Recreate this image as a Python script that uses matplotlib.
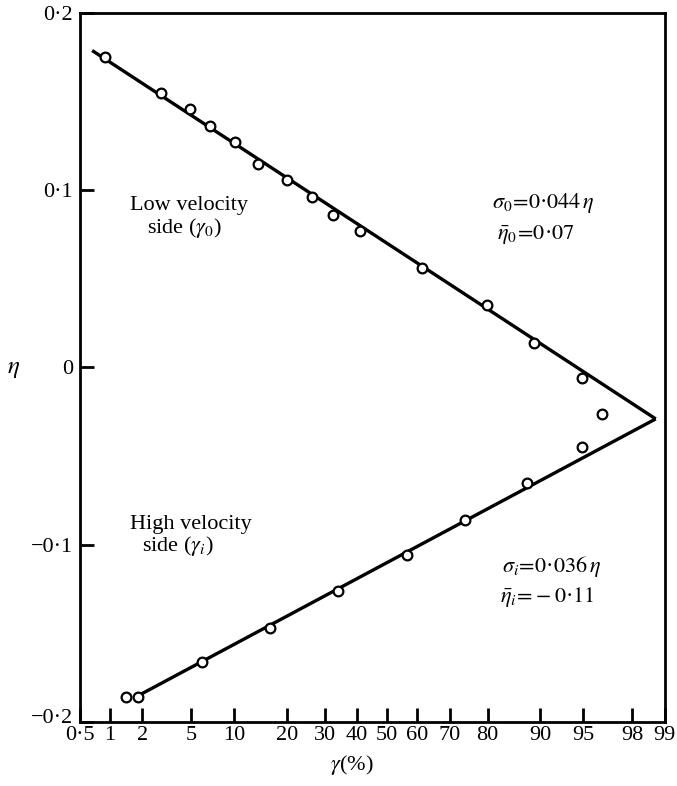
import math
from statistics import NormalDist

import numpy as np
import matplotlib
matplotlib.use("Agg")
import matplotlib.pyplot as plt
import matplotlib.transforms as mtransforms
from matplotlib.ticker import NullLocator


# measured points, low velocity side (gamma_0)
low_pct = [0.9, 2.9, 4.9, 6.9, 10.1, 14.0, 20.1, 26.5, 32.5, 41.0, 61.6, 79.9, 89.1, 94.9, 96.4]
low_eta = [0.175, 0.155, 0.146, 0.136, 0.127, 0.115, 0.106, 0.096, 0.086, 0.077,
           0.056, 0.035, 0.014, -0.006, -0.026]

# measured points, high velocity side (gamma_i)
high_pct = [1.43, 1.84, 6.0, 16.3, 34.0, 56.7, 74.4, 88.0, 94.9]
high_eta = [-0.186, -0.186, -0.166, -0.147, -0.126, -0.106, -0.086, -0.065, -0.045]

# gaussian fits: eta = mean -/+ sigma * z
sigma_0, mean_0 = 0.044, 0.07
sigma_i, mean_i = 0.036, -0.11
low_fit_start = 0.67
high_fit_start = 1.84

xtick_pct = [0.5, 1, 2, 5, 10, 20, 30, 40, 50, 60, 70, 80, 90, 95, 98, 99]
xtick_labels = ["0·5", "1", "2", "5", "10", "20", "30", "40", "50", "60", "70",
                "80", "90", "95", "98", "99"]
ytick_vals = [-0.2, -0.1, 0.0, 0.1, 0.2]
ytick_labels = ["\u22120·2", "\u22120·1", "0", "0·1", "0·2"]

nd = NormalDist()
_inv = np.vectorize(nd.inv_cdf, otypes=[float])
_erf = np.vectorize(math.erf, otypes=[float])


def pct_to_z(p):
    p = np.clip(np.asarray(p, dtype=float), 1e-9, 100 - 1e-9)
    return _inv(p / 100.0)


def z_to_pct(z):
    z = np.asarray(z, dtype=float)
    return 50.0 * (1.0 + _erf(z / math.sqrt(2.0)))


plt.rcParams["font.family"] = ["Liberation Serif", "DejaVu Serif"]
plt.rcParams["mathtext.fontset"] = "stix"
plt.rcParams["font.size"] = 16

fig = plt.figure(figsize=(6.77, 7.86), dpi=100)
ax = fig.add_axes([0.118, 0.0814, 0.864, 0.9021])
ax.set_xscale("function", functions=(pct_to_z, z_to_pct))

# fitted lines meet where the two gaussians cross
z_vertex = (mean_0 - mean_i) / (sigma_0 + sigma_i)
vertex_pct = float(z_to_pct(z_vertex))
low_fit_pct = [low_fit_start, vertex_pct]
high_fit_pct = [high_fit_start, vertex_pct]
low_fit_eta = [mean_0 - sigma_0 * float(pct_to_z(p)) for p in low_fit_pct]
high_fit_eta = [mean_i + sigma_i * float(pct_to_z(p)) for p in high_fit_pct]

ax.plot(low_fit_pct, low_fit_eta, color="black", lw=2.4, solid_capstyle="butt")
ax.plot(high_fit_pct, high_fit_eta, color="black", lw=2.4, solid_capstyle="butt")
ax.plot(low_pct, low_eta, "o", ms=7, mfc="white", mec="black", mew=1.6, zorder=3)
ax.plot(high_pct, high_eta, "o", ms=7, mfc="white", mec="black", mew=1.6, zorder=3)

ax.set_xlim(0.5, 99)
ax.set_ylim(-0.2, 0.2)
ax.set_xticks(xtick_pct, xtick_labels)
ax.xaxis.set_minor_locator(NullLocator())
ax.set_yticks(ytick_vals, ytick_labels)
ax.tick_params(axis="x", direction="in", length=10, width=2, pad=3, labelsize=16)
ax.tick_params(axis="y", direction="in", length=10, width=2, pad=5, labelsize=16)
for s in ax.spines.values():
    s.set_linewidth(2)

# lift the bottom y label a little off the x labels
lbl = ax.get_yticklabels()[0]
lbl.set_transform(lbl.get_transform()
                  + mtransforms.ScaledTranslation(0, 4 / 72, fig.dpi_scale_trans))

ax.set_xlabel(r"$\gamma$(%)", fontsize=16)
ax.xaxis.set_label_coords(0.465, -0.043)
ax.set_ylabel(r"$\eta$", rotation=0, fontsize=18)
ax.yaxis.set_label_coords(-0.114, 0.482)

ax.text(0.0855, 0.728, "Low velocity", transform=ax.transAxes, va="center", ha="left")
ax.text(0.1145, 0.697, r"side ($\gamma_0$)", transform=ax.transAxes, va="center", ha="left")
ax.text(0.0855, 0.279, "High velocity", transform=ax.transAxes, va="center", ha="left")
ax.text(0.106, 0.248, r"side ($\gamma_i$)", transform=ax.transAxes, va="center", ha="left")

ax.text(0.704, 0.732, r"$\sigma_0\!=\!0$·$044\,\eta$", transform=ax.transAxes, va="center", ha="left")
ax.text(0.713, 0.688, r"$\bar{\eta}_0\!=\!0$·$07$", transform=ax.transAxes, va="center", ha="left")
ax.text(0.721, 0.219, r"$\sigma_i\!=\!0$·$036\,\eta$", transform=ax.transAxes, va="center", ha="left")
ax.text(0.718, 0.176, r"$\bar{\eta}_i\!=\!-0$·$11$", transform=ax.transAxes, va="center", ha="left")

fig.savefig("out.png", dpi=100)
